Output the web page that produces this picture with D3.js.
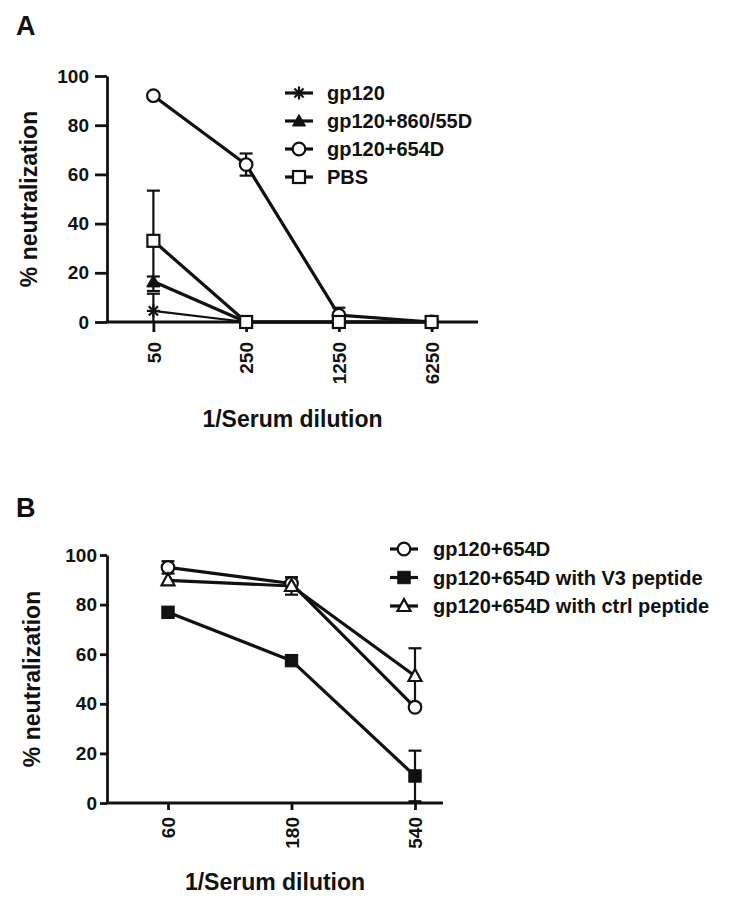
<!DOCTYPE html>
<html><head><meta charset="utf-8">
<script src="https://cdn.jsdelivr.net/npm/d3@7"></script>
<style>
body{margin:0;background:#fff;}
svg text{font-family:"Liberation Sans",Arial,sans-serif;font-weight:bold;fill:#111;}
</style></head>
<body><svg id="chart" width="733" height="905"></svg>
<script>
// ---------- DATA ----------
const yTicks = [0, 20, 40, 60, 80, 100];

// Panel A
const dilutionsA = ["50", "250", "1250", "6250"];
const seriesNamesA = ["gp120", "gp120+860/55D", "gp120+654D", "PBS"];
const gp120Vals = [4.5, 0, 0, 0];
const gp120Err = [7, 0, 0, 0];
const gp120_860Vals = [16.5, 0, 0, 0];
const gp120_860Err = [2, 0, 0, 0];
const gp120_654Vals = [92, 64, 2.8, 0];
const gp120_654Err = [0, 4.5, 3, 0];
const pbsVals = [33, 0, 0, 0];
const pbsErr = [20.4, 0, 0, 0];

// Panel B
const dilutionsB = ["60", "180", "540"];
const seriesNamesB = ["gp120+654D", "gp120+654D with V3 peptide", "gp120+654D with ctrl peptide"];
const b654Vals = [95, 88.5, 38.6];
const b654Err = [2.5, 2.5, 0];
const bV3Vals = [76.9, 57.4, 10.9];
const bV3Err = [0, 0, 10.2];
const bCtrlVals = [89.8, 87.5, 51.2];
const bCtrlErr = [0, 3.5, 11.2];

// ---------- DRAW ----------
const svg = d3.select("#chart");
svg.append("rect").attr("width", 733).attr("height", 905).attr("fill", "#fff");

function drawMarker(g, type, cx, cy) {
  const s = g.append("g").attr("transform", `translate(${cx},${cy})`);
  if (type === "asterisk") {
    const r = 6.5;
    [0, 45, 90, 135].forEach(a => {
      const rad = a * Math.PI / 180;
      s.append("line").attr("x1", -r * Math.cos(rad)).attr("y1", -r * Math.sin(rad))
        .attr("x2", r * Math.cos(rad)).attr("y2", r * Math.sin(rad))
        .attr("stroke", "#111").attr("stroke-width", 2.2);
    });
  } else if (type === "circle") {
    s.append("circle").attr("r", 6.3).attr("fill", "#fff").attr("stroke", "#111").attr("stroke-width", 2.2);
  } else if (type === "square") {
    s.append("rect").attr("x", -6).attr("y", -6).attr("width", 12).attr("height", 12)
      .attr("fill", "#fff").attr("stroke", "#111").attr("stroke-width", 2.2);
  } else if (type === "squareFilled") {
    s.append("rect").attr("x", -6.2).attr("y", -6.2).attr("width", 12.4).attr("height", 12.4)
      .attr("fill", "#111").attr("stroke", "#111").attr("stroke-width", 1);
  } else if (type === "triangleFilled") {
    s.append("path").attr("d", "M0,-6.5L6.5,5L-6.5,5Z").attr("fill", "#111").attr("stroke", "#111").attr("stroke-width", 1);
  } else if (type === "triangle") {
    s.append("path").attr("d", "M0,-7L6.5,5L-6.5,5Z").attr("fill", "#fff").attr("stroke", "#111").attr("stroke-width", 2.2);
  }
}

function panel(cfg) {
  const g = svg.append("g");
  const y = d3.scaleLinear().domain([0, 100]).range([cfg.y0, cfg.y1]);
  const x = d3.scalePoint().domain(cfg.cats).range(cfg.xRange).padding(cfg.xPad);

  // Y axis
  const ya = g.append("g").attr("transform", `translate(${cfg.ax0},0)`)
    .call(d3.axisLeft(y).tickValues(yTicks).tickSize(cfg.yTick).tickSizeOuter(0).tickPadding(cfg.yPad));
  ya.select(".domain").attr("stroke", "#111").attr("stroke-width", 2.8);
  ya.selectAll(".tick line").attr("stroke", "#111").attr("stroke-width", 2.8);
  ya.selectAll(".tick text").attr("font-size", 19).attr("fill", "#111");

  // X axis
  const xa = g.append("g").attr("transform", `translate(0,${cfg.y0})`)
    .call(d3.axisBottom(x).tickSize(cfg.xTick).tickSizeOuter(0).tickPadding(0));
  xa.select(".domain").remove();
  xa.selectAll(".tick line").attr("stroke", "#111").attr("stroke-width", 2.8);
  xa.selectAll(".tick text").attr("font-size", 19).attr("fill", "#111")
    .attr("transform", `rotate(-90)`)
    .attr("text-anchor", "end")
    .attr("x", -(cfg.xTick + cfg.xLabPad)).attr("y", 0).attr("dy", "0.35em");
  g.append("line").attr("x1", cfg.ax0).attr("x2", cfg.ax1).attr("y1", cfg.y0).attr("y2", cfg.y0)
    .attr("stroke", "#111").attr("stroke-width", 2.8);

  // Titles
  g.append("text").attr("x", cfg.panelLabX).attr("y", cfg.panelLabY).attr("font-size", 27).text(cfg.panelLabel);
  g.append("text").attr("transform", `translate(${cfg.yTitleX},${(cfg.y0 + cfg.y1) / 2}) rotate(-90)`)
    .attr("text-anchor", "middle").attr("font-size", 23).text("% neutralization");
  g.append("text").attr("x", (cfg.ax0 + cfg.ax1) / 2).attr("y", cfg.xTitleY)
    .attr("text-anchor", "middle").attr("font-size", 23).text("1/Serum dilution");

  const line = d3.line().x((d, i) => x(cfg.cats[i])).y(d => y(d));
  // lines
  cfg.series.forEach(s => {
    g.append("path").attr("d", line(s.vals)).attr("fill", "none")
      .attr("stroke", "#111").attr("stroke-width", s.lw).attr("stroke-linejoin", "round");
  });
  // error bars
  cfg.series.forEach(s => {
    s.vals.forEach((v, i) => {
      const e = s.err[i];
      if (!e) return;
      const cx = x(cfg.cats[i]);
      const lo = Math.max(0, v - e), hi = Math.min(100, v + e);
      g.append("line").attr("x1", cx).attr("x2", cx).attr("y1", y(lo)).attr("y2", y(hi))
        .attr("stroke", "#111").attr("stroke-width", 2.2);
      [v + e, v - e].forEach(c => {
        if (c < 0) return;
        g.append("line").attr("x1", cx - 6.5).attr("x2", cx + 6.5).attr("y1", y(c)).attr("y2", y(c))
          .attr("stroke", "#111").attr("stroke-width", 2.2);
      });
    });
  });
  // markers
  cfg.series.forEach(s => {
    s.vals.forEach((v, i) => drawMarker(g, s.marker, x(cfg.cats[i]), y(v)));
  });
  // legend
  cfg.series.forEach((s, i) => {
    const ly = cfg.legY + i * cfg.legStep;
    g.append("line").attr("x1", cfg.legX).attr("x2", cfg.legX + 28).attr("y1", ly).attr("y2", ly)
      .attr("stroke", "#111").attr("stroke-width", 3.2);
    drawMarker(g, s.marker, cfg.legX + 14, ly);
    g.append("text").attr("x", cfg.legTextX).attr("y", ly).attr("dy", "0.36em")
      .attr("font-size", 20).text(s.name);
  });
}

panel({
  cats: dilutionsA, xRange: [107, 478], xPad: 0.5,
  y0: 322, y1: 76, ax0: 107, ax1: 478,
  yTick: 12, yPad: 6, xTick: 10, xLabPad: 10,
  panelLabel: "A", panelLabX: 16, panelLabY: 35,
  yTitleX: 37, xTitleY: 427,
  legX: 285, legTextX: 327, legY: 93, legStep: 28,
  series: [
    { name: seriesNamesA[0], vals: gp120Vals, err: gp120Err, marker: "asterisk", lw: 2.2 },
    { name: seriesNamesA[1], vals: gp120_860Vals, err: gp120_860Err, marker: "triangleFilled", lw: 3.2 },
    { name: seriesNamesA[2], vals: gp120_654Vals, err: gp120_654Err, marker: "circle", lw: 3.2 },
    { name: seriesNamesA[3], vals: pbsVals, err: pbsErr, marker: "square", lw: 3.2 }
  ]
});

panel({
  cats: dilutionsB, xRange: [168, 415], xPad: 0,
  y0: 803, y1: 555, ax0: 107, ax1: 443,
  yTick: 7, yPad: 3, xTick: 7, xLabPad: 7,
  panelLabel: "B", panelLabX: 16, panelLabY: 517,
  yTitleX: 40, xTitleY: 890,
  legX: 390, legTextX: 433, legY: 549, legStep: 28.5,
  series: [
    { name: seriesNamesB[0], vals: b654Vals, err: b654Err, marker: "circle", lw: 3.2 },
    { name: seriesNamesB[1], vals: bV3Vals, err: bV3Err, marker: "squareFilled", lw: 3.2 },
    { name: seriesNamesB[2], vals: bCtrlVals, err: bCtrlErr, marker: "triangle", lw: 3.2 }
  ]
});
</script></body></html>
